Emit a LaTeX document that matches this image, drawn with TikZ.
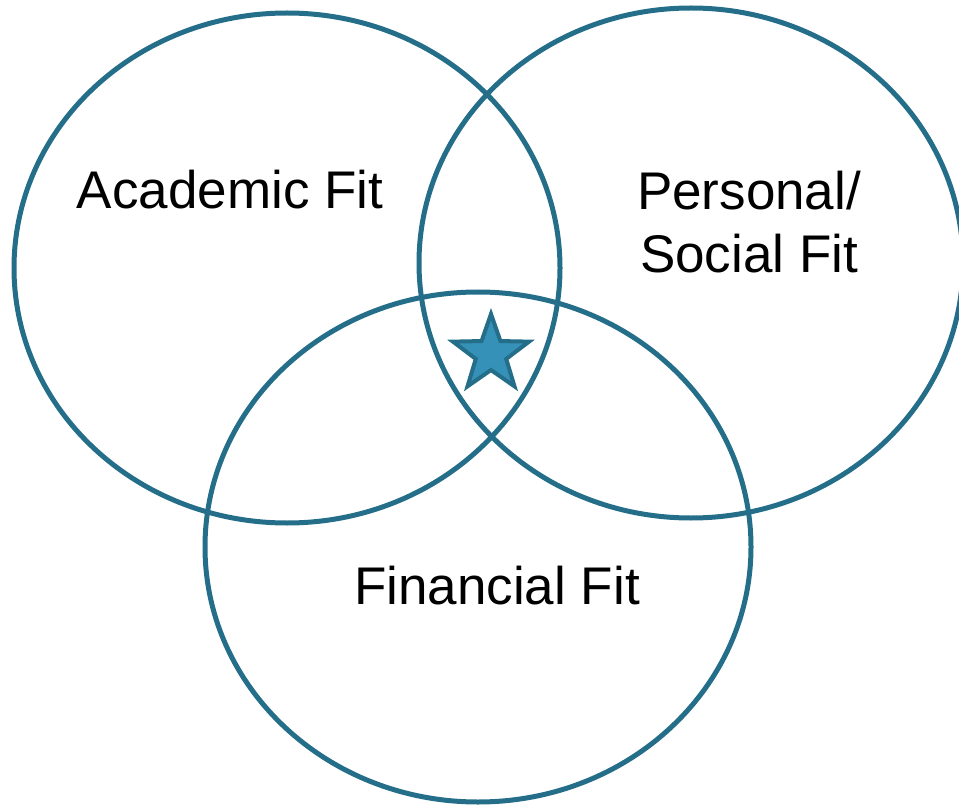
\documentclass[tikz,border=0pt]{standalone}
\usepackage{fontspec}
\setmainfont{Liberation Sans}
\usetikzlibrary{shapes.geometric}
\definecolor{ring}{HTML}{246E89}
\definecolor{starfill}{HTML}{3691B9}
\begin{document}
\begin{tikzpicture}[x=1pt,y=-1pt,
  ring/.style={draw=ring,line width=5pt},
  lbl/.style={font=\fontsize{53}{63}\selectfont,text=black,align=center,inner sep=0pt},
  starshape/.style={star,star points=5,star point ratio=2.5,minimum size=80pt,inner sep=0pt,draw=ring,fill=starfill,line width=4pt}]
\useasboundingbox (0,0) rectangle (959,805);
\clip (0,0) rectangle (959,805);
\draw[ring] (287,268) ellipse [x radius=273, y radius=255];
\draw[ring] (691,263) ellipse [x radius=272, y radius=255];
\draw[ring] (478,547) ellipse [x radius=273, y radius=255];
\node[lbl] (academic) at (230,190) {Academic Fit};
\node[lbl] (personal) at (749,222) {Personal/\\Social Fit};
\node[lbl] (financial) at (497,586) {Financial Fit};
\node[starshape] (star) at (491,354) {};
\end{tikzpicture}
\end{document}
